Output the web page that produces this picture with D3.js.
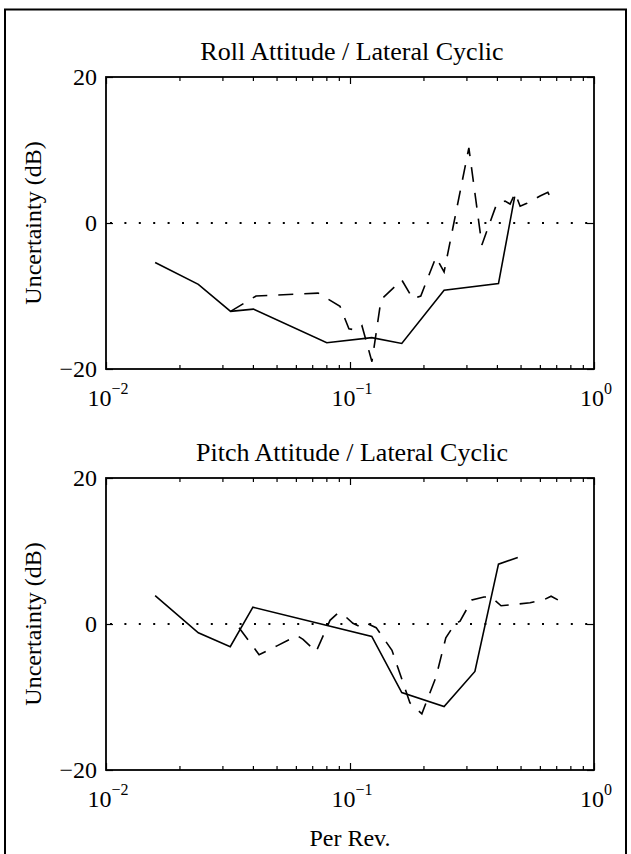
<!DOCTYPE html>
<html>
<head>
<meta charset="utf-8">
<script src="https://cdn.jsdelivr.net/npm/d3@7"></script>
<style>
body { margin: 0; background: #fff; }
svg { display: block; }
text { font-family: "Liberation Serif", "Times New Roman", serif; fill: #000; }
</style>
</head>
<body>
<div id="chart"></div>
<script>
// panel titles and tick values
var titles = ["Roll Attitude / Lateral Cyclic", "Pitch Attitude / Lateral Cyclic"];
var yTicks = [-20, 0, 20];
var xDecades = [-2, -1, 0];
var xLabel = "Per Rev.";
var yLabel = "Uncertainty (dB)";

// roll attitude, [per rev, dB]
var rollSolid = [[0.0159, -5.4], [0.0239, -8.4], [0.0324, -12.1], [0.0402, -11.8], [0.0803, -16.4],
	[0.1228, -15.7], [0.163, -16.5], [0.243, -9.2], [0.406, -8.3], [0.473, 3.6]];
var rollDashed = [[0.0324, -12.1], [0.0412, -10.0], [0.074, -9.6], [0.091, -11.4], [0.099, -14.5],
	[0.108, -14.7], [0.112, -14.1], [0.123, -19.0], [0.134, -10.5], [0.163, -7.8], [0.181, -10.4],
	[0.195, -10.0], [0.225, -4.7], [0.243, -6.7], [0.307, 10.3], [0.347, -3.0], [0.400, 2.7],
	[0.432, 3.0], [0.453, 2.6], [0.475, 4.1], [0.498, 2.3], [0.531, 2.7], [0.601, 3.7],
	[0.647, 4.2], [0.686, 2.6]];

// pitch attitude, [per rev, dB]
var pitchSolid = [[0.0159, 3.9], [0.0239, -1.2], [0.0323, -3.1], [0.040, 2.3], [0.1228, -1.7],
	[0.163, -9.4], [0.243, -11.3], [0.325, -6.5], [0.406, 8.2], [0.487, 9.1]];
var pitchDashed = [[0.0351, -0.5], [0.0424, -4.2], [0.0502, -3.0], [0.0607, -1.6], [0.0642, -2.1],
	[0.0726, -3.8], [0.0828, 0.5], [0.0893, 1.5], [0.0945, 1.2], [0.1028, 0.1], [0.112, -0.5],
	[0.1186, 0.0], [0.128, -0.5], [0.1486, -3.6], [0.176, -10.8], [0.197, -12.3], [0.225, -7.3],
	[0.247, -1.9], [0.269, 0.0], [0.2825, 0.4], [0.316, 3.3], [0.354, 3.7], [0.378, 3.7],
	[0.416, 2.5], [0.475, 2.7], [0.547, 2.9], [0.630, 3.4], [0.667, 3.8], [0.711, 3.3]];

var panels = [
	{ title: titles[0], solid: rollSolid, dashed: rollDashed, top: 77 },
	{ title: titles[1], solid: pitchSolid, dashed: pitchDashed, top: 478 }
];

var W = 631, H = 854;
var left = 106, right = 594, plotH = 292;

var svg = d3.select("#chart").append("svg")
	.attr("width", W)
	.attr("height", H);

// outer frame of the scanned figure
svg.append("rect")
	.attr("x", 5).attr("y", 9.5)
	.attr("width", 621).attr("height", 870)
	.attr("fill", "none")
	.attr("stroke", "#000")
	.attr("stroke-width", 2);

var x = d3.scaleLog().domain([0.01, 1]).range([left, right]);

var majorX = xDecades.map(function (d) { return Math.pow(10, d); });
var minorX = [];
for (var i = 0; i < xDecades.length - 1; i++) {
	for (var k = 2; k <= 9; k++) minorX.push(k * Math.pow(10, xDecades[i]));
}

function drawPanel(p, last) {
	var top = p.top, bottom = top + plotH;
	var y = d3.scaleLinear().domain([-20, 20]).range([bottom, top]);
	var g = svg.append("g");

	// ticks, pointing inward on all four sides
	var axes = [
		[d3.axisBottom(x), "translate(0," + bottom + ")", minorX, -4],
		[d3.axisBottom(x), "translate(0," + bottom + ")", majorX, -7],
		[d3.axisTop(x), "translate(0," + top + ")", minorX, -4],
		[d3.axisTop(x), "translate(0," + top + ")", majorX, -7],
		[d3.axisLeft(y), "translate(" + left + ",0)", yTicks, -7],
		[d3.axisRight(y), "translate(" + right + ",0)", yTicks, -7]
	];
	axes.forEach(function (a) {
		var ax = g.append("g").attr("transform", a[1])
			.call(a[0].tickValues(a[2]).tickSize(a[3]).tickFormat(""));
		ax.select(".domain").remove();
		ax.selectAll("line").attr("stroke", "#000").attr("stroke-width", 1.2);
	});

	// box
	g.append("rect")
		.attr("x", left).attr("y", top)
		.attr("width", right - left).attr("height", plotH)
		.attr("fill", "none")
		.attr("stroke", "#000")
		.attr("stroke-width", 1.8);

	// zero reference
	g.append("line")
		.attr("x1", left + 4).attr("x2", right)
		.attr("y1", y(0)).attr("y2", y(0))
		.attr("stroke", "#000")
		.attr("stroke-width", 2)
		.attr("stroke-dasharray", "2,12.4");

	var line = d3.line()
		.x(function (d) { return x(d[0]); })
		.y(function (d) { return y(d[1]); });

	g.append("path").datum(p.solid)
		.attr("d", line)
		.attr("fill", "none")
		.attr("stroke", "#000")
		.attr("stroke-width", 1.6);

	g.append("path").datum(p.dashed)
		.attr("d", line)
		.attr("fill", "none")
		.attr("stroke", "#000")
		.attr("stroke-width", 1.6)
		.attr("stroke-dasharray", "15,11");

	// y tick labels
	g.selectAll("text.ylab").data(yTicks)
		.enter().append("text")
		.attr("class", "ylab")
		.attr("x", left - 9)
		.attr("y", function (d) { return y(d) + 8; })
		.attr("text-anchor", "end")
		.attr("font-size", 24)
		.text(function (d) { return d < 0 ? "\u2212" + Math.abs(d) : d; });

	// x tick labels as powers of ten
	xDecades.forEach(function (d) {
		var t = g.append("text")
			.attr("x", x(Math.pow(10, d)) + 2)
			.attr("y", bottom + 37)
			.attr("text-anchor", "middle")
			.attr("font-size", 24);
		t.append("tspan").text("10");
		t.append("tspan")
			.attr("dy", -12)
			.attr("font-size", 16)
			.text(d < 0 ? "\u2212" + Math.abs(d) : d);
	});

	// title
	g.append("text")
		.attr("x", (left + right) / 2 + 2)
		.attr("y", top - 17)
		.attr("text-anchor", "middle")
		.attr("font-size", 26)
		.text(p.title);

	// y axis label
	g.append("text")
		.attr("transform", "translate(41," + (top + plotH / 2) + ") rotate(-90)")
		.attr("text-anchor", "middle")
		.attr("font-size", 24)
		.text(yLabel);

	if (last) {
		g.append("text")
			.attr("x", (left + right) / 2)
			.attr("y", bottom + 76)
			.attr("text-anchor", "middle")
			.attr("font-size", 24)
			.text(xLabel);
	}
}

panels.forEach(function (p, i) { drawPanel(p, i == panels.length - 1); });
</script>
</body>
</html>
